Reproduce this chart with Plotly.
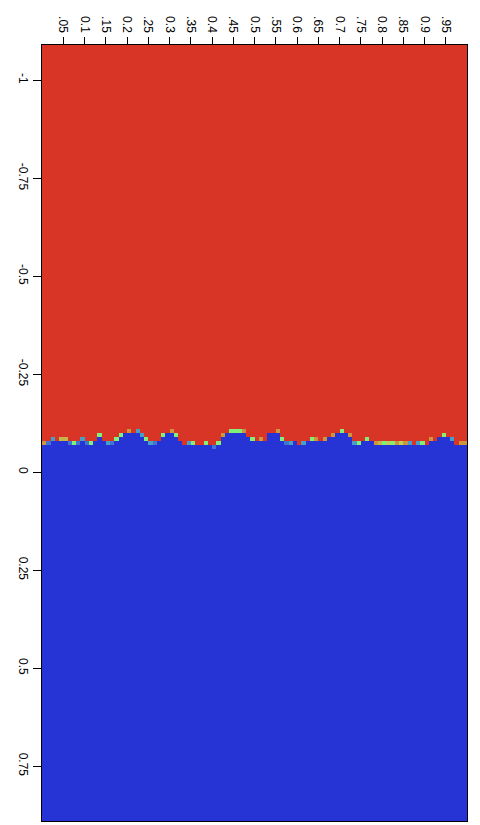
import plotly.graph_objects as go

# Column-wise boundary level (cells the blue region rises above its base row)
levels = [0,0,1,1,1,1,0,0,0,1,
          0,0,1,2,1,0,0,1,2,3,
          3,3,3,2,1,0,0,1,2,3,
          3,2,1,0,0,0,0,0,0,0,
          -1,0,2,3,3,3,3,3,2,1,
          1,1,1,3,3,3,1,0,0,1,
          0,0,1,1,1,1,1,2,2,3,
          3,3,2,0,0,1,1,1,0,0,
          0,0,0,0,0,0,0,0,0,0,
          0,1,1,2,2,2,1,0,0,0]
# Value of the transition cell just above the blue region (1 = red)
trans = [0.7,0.3,0.35,1,0.65,0.65,0.3,0.5,0.3,0.35,
         0.3,0.5,1,0.5,1,0.35,0.3,0.5,0.5,1,
         0.7,1,0.35,0.35,0.5,0.35,0.3,1,0.5,1,
         0.7,0.5,1,1,0.35,0.5,1,1,0.5,1,
         0.3,0.5,0.7,1,0.5,0.5,0.5,0.7,1,0.5,
         1,0.7,1,1,1,0.7,0.5,0.3,0.35,1,
         1,0.35,1,0.5,0.7,1,0.7,1,0.7,1,
         0.5,1,0.7,0.35,0.5,1,0.5,1,0.7,0.65,
         0.5,0.6,0.5,0.7,0.6,0.7,0.35,1,0.35,0.5,
         1,0.7,1,1,0.5,1,0.35,1,0.7,0.7]
high_value = 1.0
low_value = 0.0
n_rows = 198
base_row = 102

x_tickvals = [0.05,0.1,0.15,0.2,0.25,0.3,0.35,0.4,0.45,0.5,0.55,0.6,0.65,0.7,0.75,0.8,0.85,0.9,0.95]
x_ticktext = [".05","0.1",".15","0.2",".25","0.3",".35","0.4",".45","0.5",".55","0.6",".65","0.7",".75","0.8",".85","0.9",".95"]
y_tickvals = [-1,-0.75,-0.5,-0.25,0,0.25,0.5,0.75]
y_ticktext = ["-1","-0.75","-0.5","-0.25","0","0.25","0.5","0.75"]

z = []
for k in range(n_rows):
    row = []
    for c in range(len(levels)):
        first_blue = base_row - levels[c]
        if k >= first_blue:
            row.append(low_value)
        elif k == first_blue - 1:
            row.append(trans[c])
        else:
            row.append(high_value)
    z.append(row)

colorscale = [
    [0.0, "rgb(38,52,214)"],
    [0.3, "rgb(62,118,208)"],
    [0.4, "rgb(80,200,190)"],
    [0.5, "rgb(130,240,120)"],
    [0.6, "rgb(185,210,90)"],
    [0.7, "rgb(205,150,60)"],
    [1.0, "rgb(217,53,39)"],
]

fig = go.Figure(go.Heatmap(
    z=z, x0=0.005, dx=0.01, y0=-1.085, dy=0.01,
    colorscale=colorscale, zmin=0, zmax=1, showscale=False, zsmooth=False,
    hoverinfo="skip",
))

axis_font = dict(family="Liberation Sans, Arial, sans-serif", size=12, color="black")
fig.update_layout(
    width=480, height=825,
    margin=dict(l=42, r=13, t=45, b=4),
    paper_bgcolor="white", plot_bgcolor="white",
    xaxis=dict(range=[0, 1], side="top", tickmode="array", tickvals=x_tickvals,
               ticktext=x_ticktext, tickangle=90, ticks="outside", ticklen=7,
               tickcolor="black", showline=True, linecolor="black", linewidth=1,
               mirror=True, showgrid=False, zeroline=False, tickfont=axis_font,
               automargin=False),
    yaxis=dict(range=[0.89, -1.09], tickmode="array", tickvals=y_tickvals,
               ticktext=y_ticktext, tickangle=90, ticks="outside", ticklen=8,
               tickcolor="black", showline=True, linecolor="black", linewidth=1,
               mirror=True, showgrid=False, zeroline=False, tickfont=axis_font,
               automargin=False),
)

fig.write_html("out.html", config={"displayModeBar": False},
               post_script="document.body.style.margin='0';document.body.style.overflow='hidden';")
